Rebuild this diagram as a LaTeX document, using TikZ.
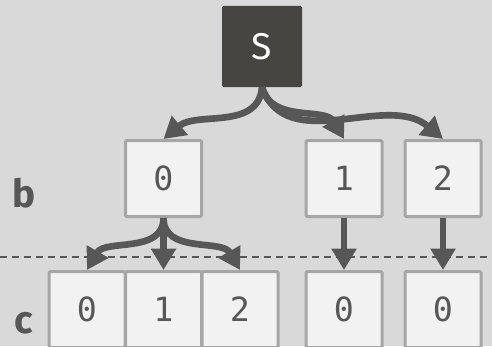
\documentclass[tikz,border=0pt]{standalone}
\usepackage{fontspec}
\setmainfont{Fira Sans}
\newfontfamily\digitfont{DejaVu Sans Mono}
\usetikzlibrary{arrows.meta}
\definecolor{bgGray}{HTML}{D9D9D9}
\definecolor{boxFill}{HTML}{F2F2F2}
\definecolor{boxLine}{HTML}{A6A6A6}
\definecolor{arrowGray}{HTML}{575757}
\definecolor{rootFill}{HTML}{47453F}

\begin{document}
\begin{tikzpicture}[x=0.75pt,y=-0.75pt,
  cell/.style={draw=boxLine, fill=boxFill, line width=2.25pt, rounded corners=1pt,
    minimum width=57pt, minimum height=57pt, inner sep=0pt,
    font=\digitfont\fontsize{25}{25}\selectfont, text=arrowGray},
  rowlabel/.style={anchor=base, font=\bfseries\fontsize{29}{29}\selectfont, text=arrowGray},
  link/.style={draw=arrowGray, line width=5pt, -{Triangle[length=16pt,width=18pt]}},
  divider/.style={draw=arrowGray, line width=1.1pt, dash pattern=on 5pt off 4pt}]
\path[fill=bgGray, use as bounding box] (0,0) rectangle (492,346);
% dashed separation between b and c
\coordinate (dashL) at (0,257);
\coordinate (dashR) at (492,257);
\draw[divider] (dashL) -- (dashR);
% root
\node[fill=rootFill, rounded corners=1pt, minimum width=60pt, minimum height=60.75pt,
  text=white, font=\fontsize{28}{28}\selectfont] (S) at (262,46.5) {S};
% row b
\node[rowlabel] (rowB) at (24,207) {b};
\node[cell] (b0) at (163.5,178.5) {0};
\node[cell] (b1) at (344,178.5) {1};
\node[cell] (b2) at (443,178.5) {2};
% row c
\node[rowlabel] (rowC) at (24,333) {c};
\node[cell] (c0) at (87,309.5) {0};
\node[cell] (c1) at (163.5,309.5) {1};
\node[cell] (c2) at (240,309.5) {2};
\node[cell] (c3) at (344,309.5) {0};
\node[cell] (c4) at (443,309.5) {0};
% arrows
\draw[link] (S.south) to[out=-95,in=40] (b0.north);
\draw[link] (S.south) to[out=-75,in=120] (b1.north);
\draw[link] (S.south) to[out=-70,in=140] (b2.north);
\draw[link] (b0.south) to[out=-90,in=60] (c0.north);
\draw[link] (b0.south) -- (c1.north);
\draw[link] (b0.south) to[out=-90,in=120] (c2.north);
\draw[link] (b1.south) -- (c3.north);
\draw[link] (b2.south) -- (c4.north);
\end{tikzpicture}
\end{document}
